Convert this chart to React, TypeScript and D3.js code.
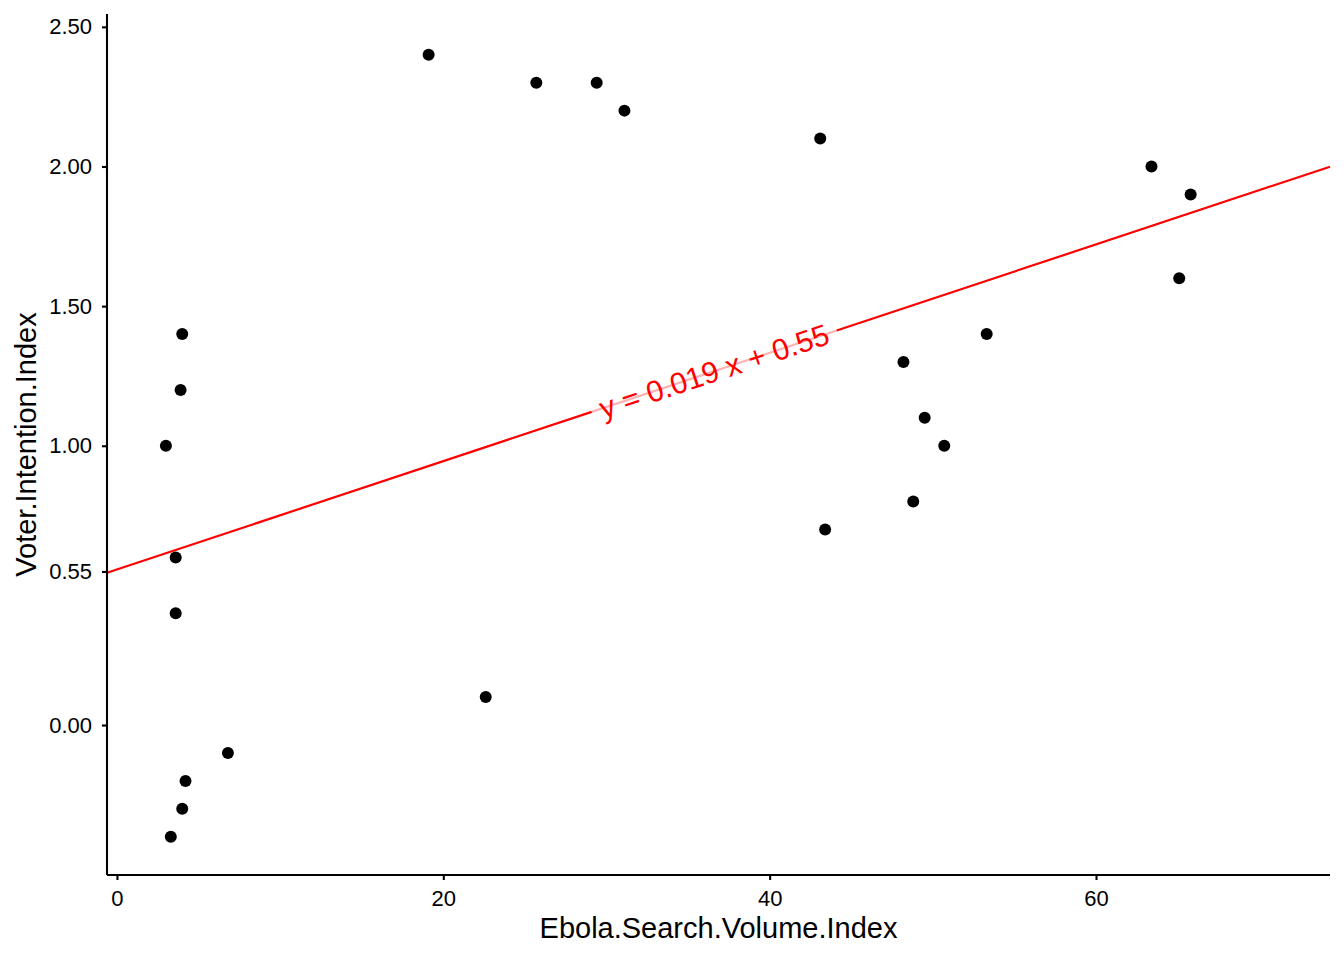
import React, { useEffect, useRef } from 'react';
import * as d3 from 'd3';

const ebola = [19.1, 25.7, 29.4, 31.1, 43.1, 63.4, 65.8, 65.1, 53.3, 48.2, 49.5, 50.7, 48.8, 43.4, 3.0, 4.0, 3.9, 3.6, 3.6, 22.6, 6.8, 4.2, 4.0, 3.3];
const voter = [2.4, 2.3, 2.3, 2.2, 2.1, 2.0, 1.9, 1.6, 1.4, 1.3, 1.1, 1.0, 0.8, 0.7, 1.0, 1.4, 1.2, 0.6, 0.4, 0.1, -0.1, -0.2, -0.3, -0.4];
const yTicks = [0, 0.55, 1, 1.5, 2, 2.5];
const xTicks = [0, 20, 40, 60];
const fitSlope = 0.0194;
const fitIntercept = 0.557;
const fitLabel = 'y = 0.019 x + 0.55';
const labelAt = 36.6;

const W = 1344;
const H = 960;

const App = () => {
    const ref = useRef<SVGSVGElement>(null);

    useEffect(() => {
        const svg = d3.select(ref.current);
        svg.selectAll('*').remove();

        const left = 107, right = 1330, top = 14, bottom = 875;
        const x = d3.scaleLinear().domain([-0.61, 74.34]).range([left, right]);
        const y = d3.scaleLinear().domain([-0.537, 2.546]).range([bottom, top]);
        const font = 'Liberation Sans, Arial, sans-serif';

        // regression line, broken where the label sits
        const x0 = x.domain()[0], x1 = x.domain()[1];
        const fy = (v: number) => fitIntercept + fitSlope * v;
        const px0 = x(x0), py0 = y(fy(x0));
        const px1 = x(x1), py1 = y(fy(x1));
        const angle = Math.atan2(py1 - py0, px1 - px0);
        const cx = x(labelAt), cy = y(fy(labelAt));

        const fit = svg.append('g');
        const label = svg.append('text')
            .attr('transform', `translate(${cx},${cy}) rotate(${angle * 180 / Math.PI})`)
            .attr('text-anchor', 'middle')
            .attr('dy', '0.35em')
            .attr('fill', '#ff0000')
            .style('font-family', font)
            .style('font-size', '30px')
            .text(fitLabel);
        const len = (label.node() as SVGTextElement).getComputedTextLength();
        const half = len / 2 + 9;
        const gx = Math.cos(angle) * half, gy = Math.sin(angle) * half;

        fit.append('line')
            .attr('x1', cx - gx).attr('y1', cy - gy).attr('x2', cx + gx).attr('y2', cy + gy)
            .attr('stroke', '#ff0000').attr('stroke-opacity', 0.3).attr('stroke-width', 2.2);
        fit.append('line')
            .attr('x1', px0).attr('y1', py0).attr('x2', cx - gx).attr('y2', cy - gy)
            .attr('stroke', '#ff0000').attr('stroke-width', 2.2);
        fit.append('line')
            .attr('x1', cx + gx).attr('y1', cy + gy).attr('x2', px1).attr('y2', py1)
            .attr('stroke', '#ff0000').attr('stroke-width', 2.2);

        // points
        svg.append('g').selectAll('circle')
            .data(ebola.map((e, i) => [e, voter[i]]))
            .enter()
            .append('circle')
            .attr('cx', d => x(d[0]))
            .attr('cy', d => y(d[1]))
            .attr('r', 6)
            .attr('fill', '#000');

        // axes
        const xAxis = svg.append('g')
            .attr('transform', `translate(0,${bottom})`)
            .call(d3.axisBottom(x).tickValues(xTicks).tickSize(5).tickPadding(10).tickFormat(d3.format('d')));
        const yAxis = svg.append('g')
            .attr('transform', `translate(${left},0)`)
            .call(d3.axisLeft(y).tickValues(yTicks).tickSize(5).tickPadding(10).tickFormat(d3.format('.2f')));
        [xAxis, yAxis].forEach(a => {
            a.select('.domain').attr('stroke', '#000').attr('stroke-width', 2.1);
            a.selectAll('.tick line').attr('stroke', '#000').attr('stroke-width', 2.1);
            a.selectAll('.tick text')
                .attr('fill', '#000')
                .style('font-family', font)
                .style('font-size', '22px');
        });
        xAxis.select('.domain').attr('d', `M${left},0H${right}`);
        yAxis.select('.domain').attr('d', `M0,${top}V${bottom}`);

        svg.append('text')
            .attr('x', (left + right) / 2)
            .attr('y', 938)
            .attr('text-anchor', 'middle')
            .style('font-family', font)
            .style('font-size', '29px')
            .text('Ebola.Search.Volume.Index');
        svg.append('text')
            .attr('transform', `translate(36,${(top + bottom) / 2}) rotate(-90)`)
            .attr('text-anchor', 'middle')
            .style('font-family', font)
            .style('font-size', '29px')
            .text('Voter.Intention.Index');
    }, []);

    return (
        <svg ref={ref} width={W} height={H} style={{ position: 'absolute', left: 0, top: 0, background: '#fff' }}></svg>
    );
};

export default App;
